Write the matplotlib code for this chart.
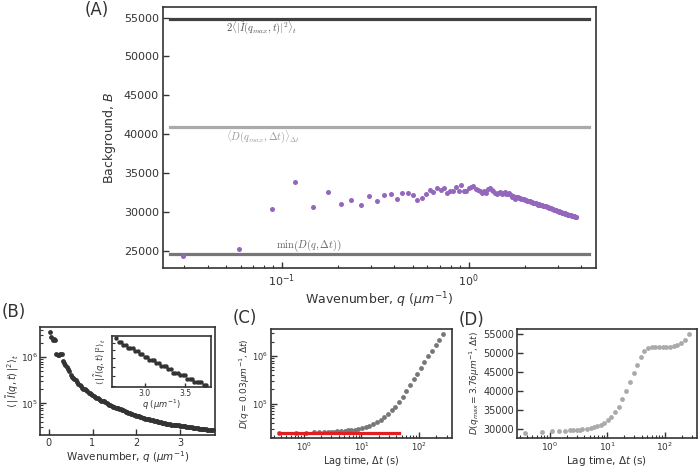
import numpy as np
import matplotlib
matplotlib.use("Agg")
import matplotlib.pyplot as plt
from matplotlib.ticker import NullFormatter

# ---------------- data ----------------
dq = 0.0294
q = dq * np.arange(1, 129)          # wavenumber grid (um^-1)

background_A = [
    24360, 25350, 30440, 33900, 30690, 32650, 31100, 31600, 31000, 32050,
    31400, 32270, 32310, 31720, 32530, 32530, 32180, 31590, 31800, 32310,
    32880, 32650, 33080, 32820, 33130, 32440, 32690, 32780, 33300, 32780,
    33510, 32690, 32690, 33170, 33210, 33380, 33040, 32910, 32740,
    32450, 32700, 32500, 33000, 33100, 32900, 32750, 32450, 32400, 32500,
    32600, 32350, 32450, 32650, 32400, 32300, 32500, 32200, 32000, 32100,
    31700, 31900, 32000, 31850, 31800, 31750, 31650, 31700, 31600, 31550,
    31500, 31400, 31450, 31300, 31350, 31200, 31250, 31150, 31200, 31050,
    31000, 31050, 30950, 30900, 30950, 30800, 30850, 30750, 30800, 30650,
    30650, 30600, 30560, 30550, 30500, 30450, 30400, 30350, 30300, 30300,
    30250, 30200, 30150, 30150, 30100, 30050, 30000, 29950, 29950, 29900,
    29850, 29850, 29800, 29800, 29750, 29700, 29700, 29650, 29650, 29600,
    29600, 29550, 29550, 29500, 29500, 29480, 29450, 29430, 29400,
]
bg_max_line = 54830      # 2<|I(qmax,t)|^2>_t
bg_mean_line = 40950     # <D(qmax,dt)>_dt
bg_min_line = 24650      # min(D(q,dt))

intensity_B = [
    3550000, 2820000, 2400000, 2510000, 2340000, 1200000, 1120000, 1100000, 1200000, 1150000,
    832000, 741000, 692000, 603000, 550000, 501000, 417000, 380000, 355000, 331000,
    316000, 288000, 263000, 245000, 234000, 219000, 209000, 200000, 191000, 182000,
    170000, 166000, 158000, 151000, 145000, 138000, 132000, 129000, 123000, 117000,
    115000, 112000, 110000, 105000, 100000, 97700, 93300, 91200, 89100, 85100,
    83200, 81300, 79400, 77600, 75900, 74100, 72400, 70800, 69200, 66100,
    64600, 63100, 60300, 58900, 57500, 56200, 55000, 53700, 52500, 52500,
    51300, 50100, 49000, 47900, 46800, 46800, 45700, 44700, 43700, 43700,
    42700, 41700, 40700, 40700, 39800, 38900, 38900, 38000, 38000, 37200,
    36300, 36300, 35500, 35500, 34700, 34700, 34700, 33900, 33900, 33100,
    33100, 32400, 32400, 31600, 31600, 31600, 30900, 30900, 30200, 30200,
    30200, 29500, 29500, 28800, 28800, 28800, 28200, 28200, 28200, 27500,
    27500, 27500, 26900, 26900, 26900, 26900, 26300, 26300,
]
inset_qmin = 2.63

lag_times = [0.37, 0.74, 1.11, 1.48, 1.85, 2.22, 2.59, 2.96, 3.33, 3.70,
             4.44, 5.18, 5.92, 6.66, 7.77, 8.88, 10.4, 11.8, 13.7, 15.9,
             18.5, 21.5, 24.8, 28.9, 33.3, 38.5, 44.8, 51.8, 59.9, 69.2,
             80.3, 92.9, 107, 124, 144, 167, 193, 223, 265]

ddm_C = [24800, 24800, 24800, 25100, 25100, 25400, 25700, 25700, 26000, 26300,
         26600, 26900, 27500, 28200, 28800, 29900, 30900, 32400, 34700, 37200,
         40700, 45700, 52500, 61700, 72400, 87100, 107000, 141000, 186000, 245000,
         324000, 427000, 562000, 741000, 977000, 1290000, 1660000, 2140000, 2880000]
red_line_x = [0.37, 45.0]

ddm_D = [28950, 29250, 29350, 29400, 29500, 29550, 29650, 29700, 29800, 29900,
         30050, 30250, 30450, 30700, 31050, 31500, 32300, 33100, 34300, 35800,
         37700, 39900, 42200, 44600, 46800, 48800, 50400, 51100, 51350, 51400,
         51400, 51450, 51450, 51500, 51650, 52000, 52500, 53300, 54900]

# ---------------- figure ----------------
W, H = 700, 468
fig = plt.figure(figsize=(W / 100, H / 100), dpi=100)
TXT = '#333333'
plt.rcParams['font.family'] = ['DejaVu Sans']


def rect(l, t, r, b):
    return [l / W, 1 - b / H, (r - l) / W, (b - t) / H]


def style(ax, fs, pad=3):
    ax.tick_params(which='both', direction='in', colors=TXT, labelsize=fs,
                   labelcolor=TXT, pad=pad)
    ax.tick_params(which='major', length=4, width=1)
    ax.tick_params(which='minor', length=2.3, width=0.8)
    for s in ax.spines.values():
        s.set_color(TXT)
        s.set_linewidth(1.2)


# ---- Panel A ----
axA = fig.add_axes(rect(163, 7, 596, 268))
axA.scatter(q, background_A, s=13, color='#9467bd', linewidths=0, zorder=3)
axA.axhline(bg_max_line, xmin=0.016, xmax=0.984, color='#404040', lw=2.3)
axA.axhline(bg_mean_line, xmin=0.016, xmax=0.984, color='#aaaaaa', lw=2.3)
axA.axhline(bg_min_line, xmin=0.016, xmax=0.984, color='#777777', lw=2.3)
axA.set_xscale('log')
axA.set_ylim(22850, 56350)
axA.set_yticks(np.arange(25000, 55001, 5000))
style(axA, 8)
axA.set_xlabel(r'Wavenumber, $q$ ($\mu m^{-1}$)', fontsize=9, color=TXT, labelpad=1)
axA.set_ylabel(r'Background, $B$', fontsize=9, color=TXT)
axA.text(0.050, 53550, r'$2\langle|\tilde{I}(q_{max},t)|^2\rangle_t$', fontsize=7.5,
         color='#555555', va='center', ha='left', math_fontfamily='cm')
axA.text(0.050, 39650, r'$\langle D(q_{max},\Delta t)\rangle_{\Delta t}$', fontsize=7.5,
         color='#999999', va='center', ha='left', math_fontfamily='cm')
axA.text(0.093, 25750, r'$\min\left(D(q,\Delta t)\right)$', fontsize=7.5,
         color='#666666', va='center', ha='left', math_fontfamily='cm')

# ---- Panel B ----
axB = fig.add_axes(rect(40, 327, 215, 435))
axB.scatter(q, intensity_B, s=12, color='#333333', linewidths=0, zorder=3)
axB.set_yscale('log')
axB.set_xlim(-0.2, 3.8)
axB.set_xticks([0, 1, 2, 3])
style(axB, 7, pad=2)
axB.tick_params(axis='y', labelsize=6.5, pad=1.5)
axB.set_xlabel(r'Wavenumber, $q$ ($\mu m^{-1}$)', fontsize=7.5, color=TXT, labelpad=1)
axB.set_ylabel(r'$\langle\,|\,\tilde{I}(q,t)\,|^2\rangle_t$', fontsize=7,
               color=TXT, labelpad=0)

# inset
axI = fig.add_axes(rect(111.7, 336, 210.7, 387))
qa = np.asarray(q)
ia = np.asarray(intensity_B)
m = qa >= inset_qmin
axI.scatter(qa[m], ia[m], s=10, color='#333333', linewidths=0, zorder=3)
axI.set_yscale('log')
axI.set_xticks([3.0, 3.5])
axI.yaxis.set_major_formatter(NullFormatter())
axI.yaxis.set_minor_formatter(NullFormatter())
style(axI, 5.5, pad=1.5)
axI.tick_params(which='major', length=3)
axI.tick_params(which='minor', length=2)
axI.set_xlabel(r'$q$ ($\mu m^{-1}$)', fontsize=6, color=TXT, labelpad=0)
axI.set_ylabel(r'$\langle\,|\,\tilde{I}(q,t)\,|^2\rangle_t$', fontsize=6,
               color=TXT, labelpad=1)

# ---- Panel C ----
axC = fig.add_axes(rect(270.7, 329, 451.7, 437.7))
axC.scatter(lag_times, ddm_C, s=12, color='#777777', linewidths=0, zorder=2)
axC.plot(red_line_x, [bg_min_line, bg_min_line], color='#e02020', lw=2.3, zorder=3)
axC.set_xscale('log')
axC.set_yscale('log')
style(axC, 6, pad=2)
axC.set_xlabel(r'Lag time, $\Delta t$ (s)', fontsize=7, color=TXT, labelpad=1)
axC.set_ylabel(r'$D(q=0.03\mu m^{-1}, \Delta t)$', fontsize=6.5, color=TXT, labelpad=0)

# ---- Panel D ----
axD = fig.add_axes(rect(516.7, 329, 697, 437.7))
axD.scatter(lag_times, ddm_D, s=12, color='#aaaaaa', linewidths=0, zorder=2)
axD.set_xscale('log')
axD.set_yticks(np.arange(30000, 55001, 5000))
style(axD, 7, pad=2)
axD.tick_params(axis='x', labelsize=6.5)
axD.set_xlabel(r'Lag time, $\Delta t$ (s)', fontsize=7.5, color=TXT, labelpad=1)
axD.set_ylabel(r'$D(q_{max}=3.76\mu m^{-1}, \Delta t)$', fontsize=6.5, color=TXT,
               labelpad=1)

# ---- panel letters ----
for lab, x, y in [('(A)', 97, 10), ('(B)', 14, 312), ('(C)', 245, 318), ('(D)', 472, 320)]:
    fig.text(x / W, 1 - y / H, lab, ha='center', va='center', fontsize=12, color=TXT)

fig.savefig('out.png', dpi=100)
